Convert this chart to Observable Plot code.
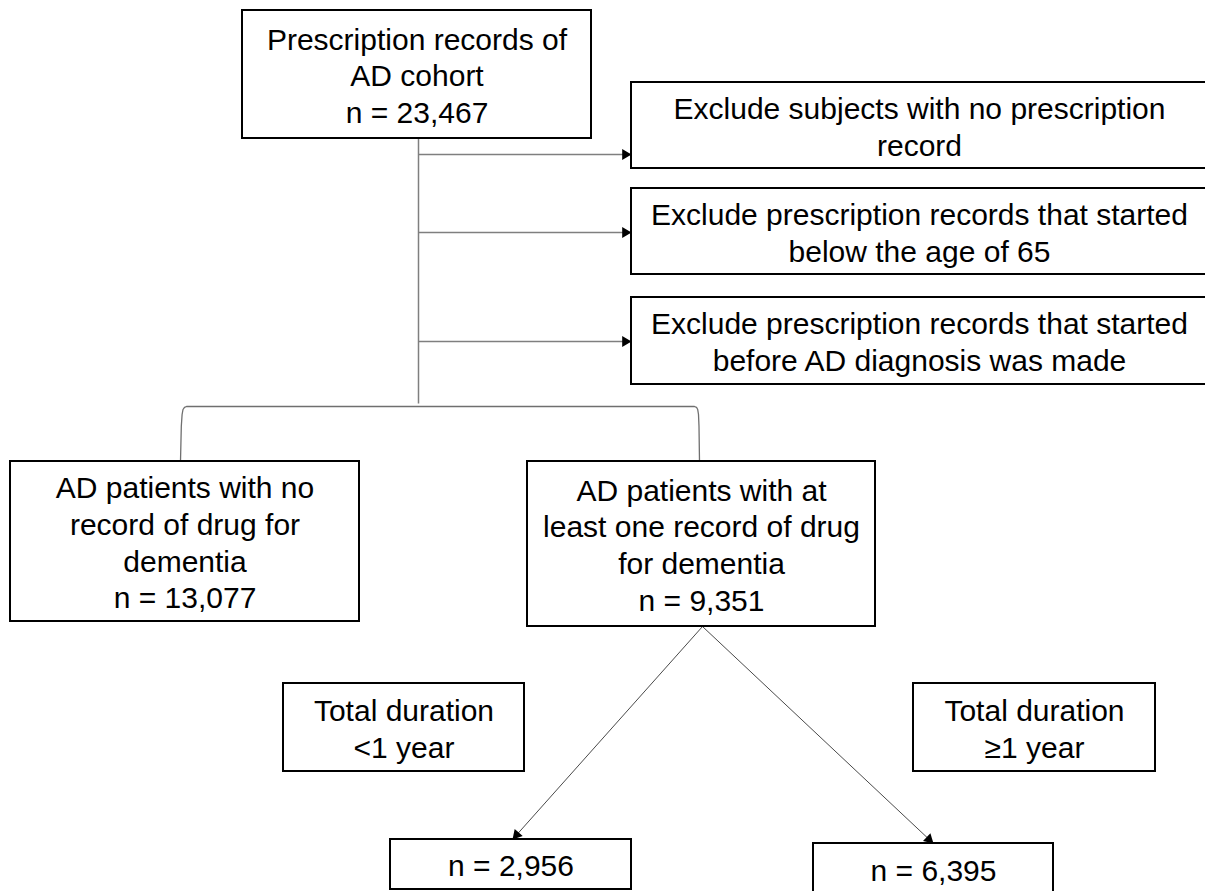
<!DOCTYPE html>
<html>
<head>
<meta charset="utf-8">
<script src="https://cdn.jsdelivr.net/npm/d3@7"></script>
<script src="https://cdn.jsdelivr.net/npm/@observablehq/plot@0.6"></script>
<style>
  html, body { margin: 0; padding: 0; background: #ffffff; }
  #chart svg { display: block; }
</style>
</head>
<body>
<div id="chart"></div>
<script>
// ---- Data: the flow steps and their counts ----
const stepLabels = [
  "Prescription records of\nAD cohort",
  "Exclude subjects with no prescription\nrecord",
  "Exclude prescription records that started\nbelow the age of 65",
  "Exclude prescription records that started\nbefore AD diagnosis was made",
  "AD patients with no\nrecord of drug for\ndementia",
  "AD patients with at\nleast one record of drug\nfor dementia",
  "Total duration\n<1 year",
  "Total duration\n≥1 year",
  "",
  ""
];
const stepCounts = [23467, null, null, null, 13077, 9351, null, null, 2956, 6395];

// ---- Layout (pixel positions of the flowchart boxes) ----
const boxLeft   = [242, 631, 631, 631, 10, 527, 283, 913, 390, 813];
const boxRight  = [591, 1207, 1207, 1207, 359, 875, 524, 1155, 631, 1053];
const boxTop    = [10, 82, 188, 297, 461, 461, 683, 683, 839, 843];
const boxBottom = [138, 168, 274, 384, 621, 626, 771, 771, 889, 894];

// connector geometry
const trunkX = 418, trunkEnd = 403;
const exclusionArrowY = [154, 232, 341];
const bracketY = 406;
const bracketLegs = [180, 699];
const splitApex = {x: 702, y: 626};
const splitTips = [{x: 512, y: 839}, {x: 933, y: 843}];

const fmt = d3.format(",");
const boxes = stepLabels.map((label, i) => ({
  x1: boxLeft[i], x2: boxRight[i], y1: boxTop[i], y2: boxBottom[i],
  cx: (boxLeft[i] + boxRight[i]) / 2,
  cy: (boxTop[i] + boxBottom[i]) / 2,
  text: label + (stepCounts[i] != null ? (label ? "\n" : "") + "n = " + fmt(stepCounts[i]) : "")
}));

// grey connectors
const trunk = [{x1: trunkX, y1: boxBottom[0], x2: trunkX, y2: trunkEnd}];
const exclusionArrows = exclusionArrowY.map((y, k) => ({x1: trunkX, y1: y, x2: boxLeft[k + 1], y2: y}));
const splitArrows = splitTips.map(t => ({x1: splitApex.x, y1: splitApex.y, x2: t.x, y2: t.y}));

// bracket with softly rounded shoulders
const [lx, rx] = bracketLegs;
const bracket = [
  {x: lx, y: boxTop[4]}, {x: lx + 0.8, y: bracketY + 20}, {x: lx + 1.6, y: bracketY + 8},
  {x: lx + 2.5, y: bracketY + 3}, {x: lx + 4, y: bracketY + 0.8}, {x: lx + 6, y: bracketY},
  {x: rx - 5, y: bracketY}, {x: rx - 3, y: bracketY + 0.8}, {x: rx - 1.8, y: bracketY + 3},
  {x: rx - 1, y: bracketY + 8}, {x: rx - 0.5, y: bracketY + 20}, {x: rx, y: boxTop[5]}
];

// arrow heads (filled triangles) at the tips of all arrows
const headR = 4;
const headOffset = 2 * Math.sqrt((Math.PI * headR * headR) / (Math.sqrt(3) * 3));
const heads = [...exclusionArrows, ...splitArrows].map(a => {
  const dx = a.x2 - a.x1, dy = a.y2 - a.y1, len = Math.hypot(dx, dy);
  return {
    x: a.x2 - dx / len * headOffset,
    y: a.y2 - dy / len * headOffset,
    angle: Math.atan2(dx, -dy) * 180 / Math.PI
  };
});

const chart = Plot.plot({
  width: 1205,
  height: 891,
  margin: 0,
  x: {type: "identity", axis: null},
  y: {type: "identity", axis: null},
  style: {background: "#ffffff", fontFamily: "'Liberation Sans', Arial, sans-serif"},
  marks: [
    Plot.link(trunk, {x1: "x1", y1: "y1", x2: "x2", y2: "y2", stroke: "#7f7f7f", strokeWidth: 1.5}),
    Plot.link(exclusionArrows, {x1: "x1", y1: "y1", x2: "x2", y2: "y2", stroke: "#7f7f7f", strokeWidth: 1.5}),
    Plot.line(bracket, {x: "x", y: "y", stroke: "#6f6f6f", strokeWidth: 1.3, curve: "linear"}),
    Plot.link(splitArrows, {x1: "x1", y1: "y1", x2: "x2", y2: "y2", stroke: "#4a4a4a", strokeWidth: 1}),
    Plot.rect(boxes, {x1: "x1", x2: "x2", y1: "y1", y2: "y2", fill: "#ffffff", stroke: "#000000", strokeWidth: 2}),
    Plot.dot(heads, {x: "x", y: "y", r: headR, symbol: "triangle", fill: "#000000", stroke: "none", rotate: "angle"}),
    Plot.text(boxes, {
      x: "cx", y: "cy", text: "text",
      fontSize: 30, lineHeight: 1.22, fill: "#000000",
      textAnchor: "middle", lineAnchor: "middle",
      fontFamily: "'Liberation Sans', Arial, sans-serif"
    })
  ]
});
document.getElementById("chart").appendChild(chart);
</script>
</body>
</html>
